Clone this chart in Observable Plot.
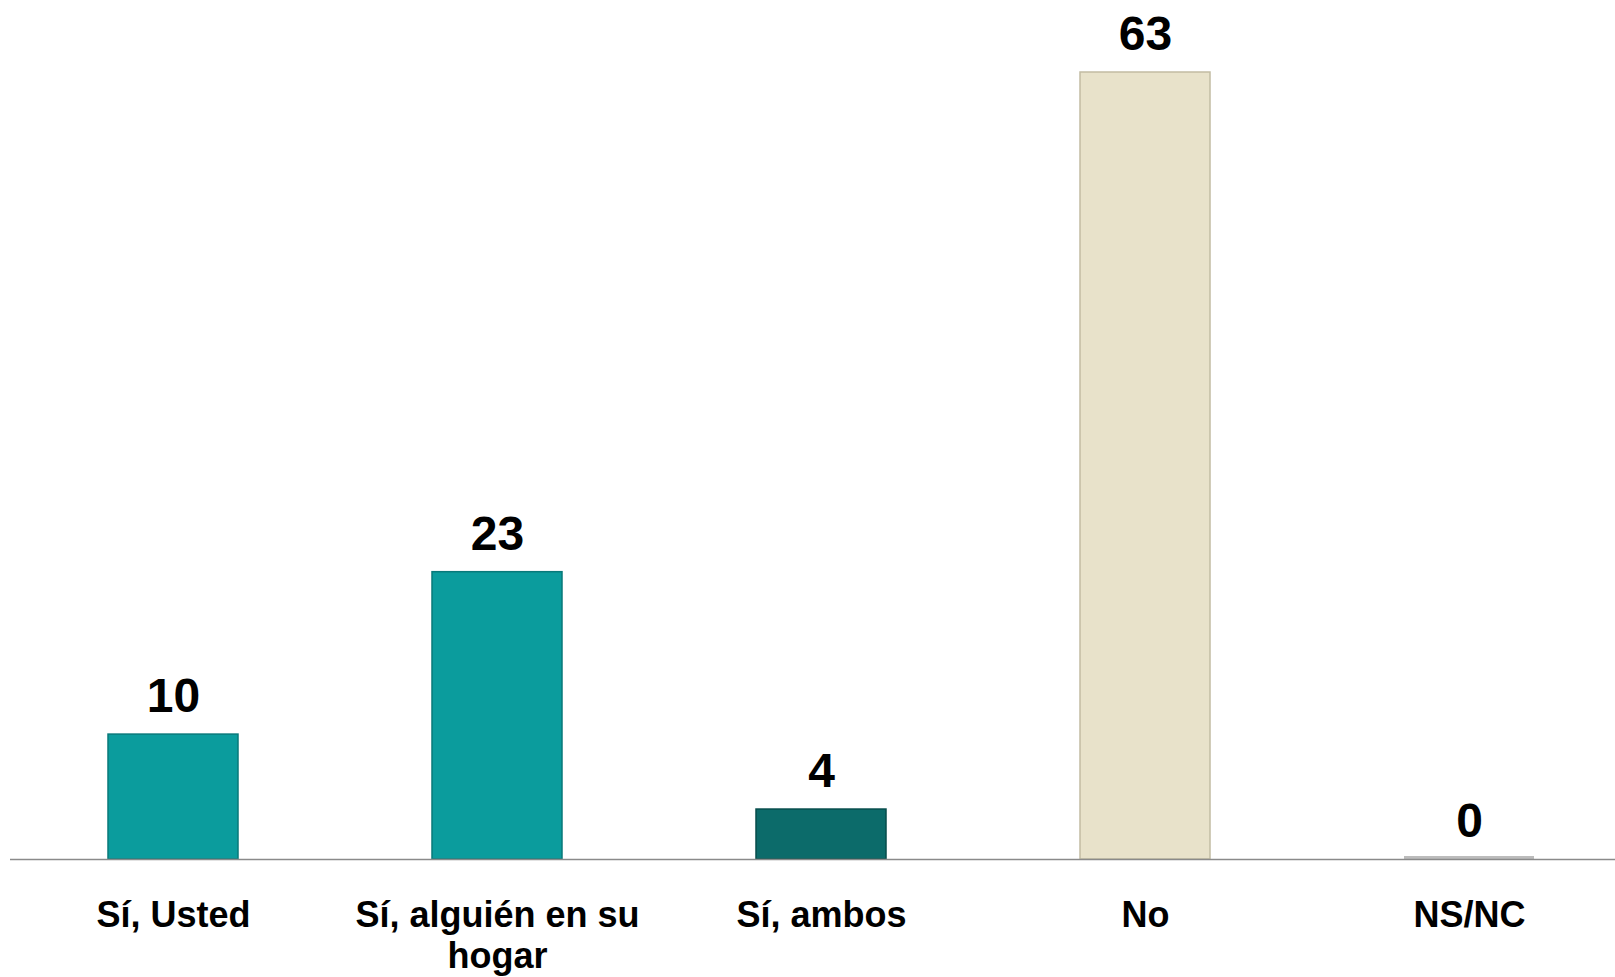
<!DOCTYPE html>
<html>
<head>
<meta charset="utf-8">
<script src="https://cdn.jsdelivr.net/npm/d3@7"></script>
<script src="https://cdn.jsdelivr.net/npm/@observablehq/plot@0.6"></script>
<style>
  html, body { margin: 0; padding: 0; background: #fff; overflow: hidden; }
</style>
</head>
<body>
<div id="chart"></div>
<script>
const categories = ["Sí, Usted", "Sí, alguién en su hogar", "Sí, ambos", "No", "NS/NC"];
const values = [10, 23, 4, 63, 0];
const fills = ["#0b9c9d", "#0b9c9d", "#0c6b6a", "#e8e2ca", "#bcbcbc"];
const strokes = ["#08797a", "#08797a", "#064c4b", "#c2bca3", "#a8a8a8"];

const data = categories.map((c, i) => ({category: c, value: values[i], fill: fills[i], stroke: strokes[i]}));
const nonZero = data.filter(d => d.value > 0);
const zero = data.filter(d => d.value === 0);

const chart = Plot.plot({
  width: 1615,
  height: 977,
  marginLeft: 10,
  marginRight: 0,
  marginTop: 0,
  marginBottom: 118,
  style: {fontFamily: "'Liberation Sans', Arial, sans-serif", background: "#fff", color: "#000"},
  x: {domain: categories, range: [10, 1631], paddingInner: 0.6, paddingOuter: 0.3, label: null},
  y: {domain: [0, 63], range: [859, 72], axis: null},
  marks: [
    Plot.barY(nonZero, {x: "category", y: "value", fill: d => d.fill, stroke: d => d.stroke, strokeWidth: 1.5}),
    Plot.barY(zero, {x: "category", y: "value", fill: d => d.fill, insetTop: -3}),
    Plot.ruleY([0], {stroke: "#8a8a8a", strokeWidth: 1.5}),
    Plot.text(data, {x: "category", y: "value", text: d => String(d.value), dy: -38, lineAnchor: "middle",
      fontSize: 48, fontWeight: "bold", fill: "#000"}),
    Plot.axisX({tickSize: 0, tickPadding: 39, fontSize: 36, fontWeight: "bold", lineWidth: 9, lineHeight: 1.13, label: null, fill: "#000"})
  ]
});
document.getElementById("chart").appendChild(chart);
</script>
</body>
</html>
